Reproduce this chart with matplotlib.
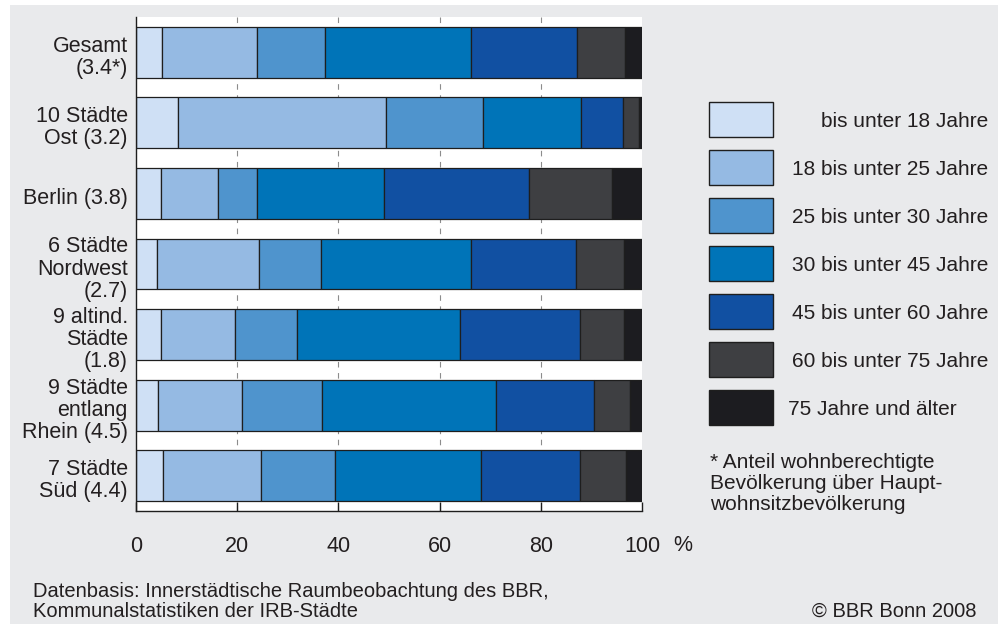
import numpy as np
import matplotlib.pyplot as plt
from matplotlib.patches import Rectangle
from matplotlib.transforms import blended_transform_factory, ScaledTranslation

plt.rcParams['font.family'] = ['Liberation Sans', 'DejaVu Sans']

# Regionen (Anteil wohnberechtigte Bevoelkerung in Klammern)
regions = ["Gesamt\n(3.4*)", "10 Städte\nOst (3.2)", "Berlin (3.8)",
           "6 Städte\nNordwest\n(2.7)", "9 altind.\nStädte\n(1.8)",
           "9 Städte\nentlang\nRhein (4.5)", "7 Städte\nSüd (4.4)"]

age_groups = ["bis unter 18 Jahre", "18 bis unter 25 Jahre", "25 bis unter 30 Jahre",
              "30 bis unter 45 Jahre", "45 bis unter 60 Jahre", "60 bis unter 75 Jahre",
              "75 Jahre und älter"]

# Anteile in %
u18   = [5.1, 8.3, 5.0, 4.2, 5.0, 4.3, 5.3]
a1825 = [18.9, 41.1, 11.2, 20.1, 14.5, 16.6, 19.4]
a2530 = [13.4, 19.1, 7.8, 12.3, 12.4, 15.9, 14.6]
a3045 = [28.9, 19.5, 25.1, 29.7, 32.2, 34.4, 28.9]
a4560 = [20.8, 8.3, 28.5, 20.7, 23.6, 19.4, 19.6]
a6075 = [9.5, 3.2, 16.5, 9.4, 8.8, 7.0, 9.0]
a75   = [3.4, 0.5, 5.9, 3.6, 3.5, 2.4, 3.2]
series = [u18, a1825, a2530, a3045, a4560, a6075, a75]

xticks = [0, 20, 40, 60, 80, 100]
gridx = [20, 40, 60, 80]

colors = ['#cfe0f5', '#95bae3', '#4f94cd', '#0074b8', '#1150a2', '#3e3f42', '#1c1c20']
BG = '#e9eaec'
TXT = '#231f20'
EDGE = '#1e1e1e'

W, H = 998, 625
fig = plt.figure(figsize=(W / 100, H / 100), dpi=100, facecolor='white')


def fx(px):
    return px / W


def fy(py):
    return 1 - py / H


# grauer Hintergrund
fig.add_artist(Rectangle((fx(10), fy(624)), fx(998) - fx(10), fy(5) - fy(624),
                         transform=fig.transFigure, facecolor=BG, edgecolor='none', zorder=-10))

ax = fig.add_axes([fx(136), fy(511), fx(642) - fx(136), fy(17) - fy(511)])
ax.set_facecolor('white')

y = np.arange(len(regions))
left = np.zeros(len(regions))
for vals, col in zip(series, colors):
    ax.barh(y, vals, left=left, height=0.72, color=col, edgecolor=EDGE, linewidth=0.9, zorder=2)
    left += np.array(vals)

ax.vlines(gridx, -0.5, len(regions) - 0.5, colors='#8c8c8c', linewidth=0.8,
          linestyles=(0, (5, 5)), zorder=1)

ax.set_xlim(0, 100)
ax.set_ylim(len(regions) - 0.5, -0.5)
for s in ['top', 'right']:
    ax.spines[s].set_visible(False)
for s in ['left', 'bottom']:
    ax.spines[s].set_color(EDGE)
    ax.spines[s].set_linewidth(1.0)

ax.set_xticks(xticks)
ax.set_xticklabels([str(t) for t in xticks])
ax.tick_params(axis='x', direction='in', length=6.5, width=1.0, color=EDGE,
               pad=18, labelsize=15.5, labelcolor=TXT)
ax.set_yticks([])

# Regionsbeschriftung
trans = blended_transform_factory(ax.transAxes, ax.transData) + \
    ScaledTranslation(-8 / 100, -5 / 100, fig.dpi_scale_trans)
for yi, lab in zip(y, regions):
    ax.text(0, yi, lab, transform=trans, ha='right', va='center', fontsize=15.5,
            color=TXT, linespacing=1.07)

# Prozentzeichen
ax.text(108, -0.069, "%", transform=blended_transform_factory(ax.transData, ax.transAxes),
        ha='center', va='center', fontsize=15.5, color=TXT)

# Legende
for i, (lab, col) in enumerate(zip(age_groups, colors)):
    top = 102.3 + i * 47.9
    fig.add_artist(Rectangle((fx(709), fy(top + 35)), fx(773) - fx(709), fy(top) - fy(top + 35),
                             transform=fig.transFigure, facecolor=col, edgecolor=EDGE, linewidth=1.0))
    if i < len(age_groups) - 1:
        fig.text(fx(988), fy(top + 25), lab, ha='right', va='baseline', fontsize=15, color=TXT)
    else:
        fig.text(fx(788), fy(top + 25), lab, ha='left', va='baseline', fontsize=15, color=TXT)

foot = ["* Anteil wohnberechtigte", "Bevölkerung über Haupt-", "wohnsitzbevölkerung"]
for i, line in enumerate(foot):
    fig.text(fx(710), fy(468 + i * 21), line, ha='left', va='baseline', fontsize=15, color=TXT)

fig.text(fx(33), fy(597), "Datenbasis: Innerstädtische Raumbeobachtung des BBR,",
         ha='left', va='baseline', fontsize=14.5, color=TXT)
fig.text(fx(33), fy(617), "Kommunalstatistiken der IRB-Städte",
         ha='left', va='baseline', fontsize=14.5, color=TXT)
fig.text(fx(976), fy(617), "© BBR Bonn 2008",
         ha='right', va='baseline', fontsize=14.5, color=TXT)

fig.savefig("out.png", dpi=100, facecolor=fig.get_facecolor())
